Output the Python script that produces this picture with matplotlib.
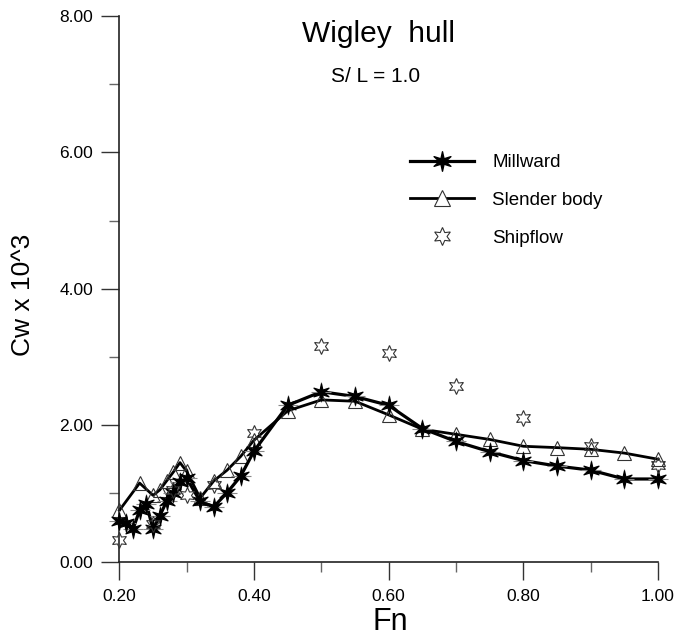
import matplotlib
matplotlib.use("Agg")
import matplotlib.pyplot as plt
from matplotlib.path import Path
from matplotlib.lines import Line2D
from matplotlib.legend_handler import HandlerTuple
from matplotlib.ticker import MultipleLocator, FormatStrFormatter

plt.rcParams['font.family'] = ['Liberation Sans', 'DejaVu Sans']

# Wave resistance coefficient Cw x 10^3 versus Froude number
fn_millward = [0.20, 0.21, 0.22, 0.23, 0.24, 0.25, 0.26, 0.27, 0.28, 0.29, 0.30,
               0.32, 0.34, 0.36, 0.38, 0.40, 0.45, 0.50, 0.55, 0.60, 0.65, 0.70,
               0.75, 0.80, 0.85, 0.90, 0.95, 1.00]
cw_millward = [0.60, 0.57, 0.47, 0.75, 0.85, 0.47, 0.67, 0.88, 1.00, 1.17, 1.22,
               0.88, 0.80, 1.01, 1.25, 1.62, 2.29, 2.49, 2.42, 2.29, 1.95, 1.76,
               1.61, 1.48, 1.40, 1.34, 1.21, 1.21]

fn_slender = [0.20, 0.23, 0.25, 0.26, 0.27, 0.28, 0.29, 0.30, 0.32, 0.34, 0.36,
              0.38, 0.40, 0.45, 0.50, 0.55, 0.60, 0.65, 0.70, 0.75, 0.80, 0.85,
              0.90, 0.95, 1.00]
cw_slender = [0.75, 1.15, 0.97, 1.05, 1.18, 1.31, 1.45, 1.32, 0.93, 1.18, 1.34,
              1.54, 1.78, 2.21, 2.37, 2.35, 2.15, 1.94, 1.865, 1.79, 1.69, 1.67,
              1.645, 1.59, 1.50]

fn_shipflow = [0.20, 0.25, 0.28, 0.30, 0.34, 0.40, 0.50, 0.60, 0.70, 0.80, 0.90, 1.00]
cw_shipflow = [0.32, 0.55, 1.05, 0.97, 1.12, 1.88, 3.16, 3.06, 2.58, 2.10, 1.69, 1.41]

series_labels = ["Millward", "Slender body", "Shipflow"]
x_ticks = [0.20, 0.40, 0.60, 0.80, 1.00]
y_ticks = [0.00, 2.00, 4.00, 6.00, 8.00]

W, H = 681, 638
fig = plt.figure(figsize=(W / 100, H / 100), dpi=100)
ax = fig.add_axes([119.4 / W, 1 - 561.5 / H, (658 - 119.4) / W, (561.5 - 16) / H])

spiky_star = Path.unit_regular_star(6, 0.32)
open_star = (6, 1, 0)

# Slender body: line with open triangles
ax.plot(fn_slender, cw_slender, color='black', lw=2.0, zorder=2, clip_on=False)
ax.plot(fn_slender, cw_slender, ls='none', marker='^', ms=9.5, mfc='none',
        mec='#333333', mew=0.8, zorder=3, clip_on=False)

# Millward: line with filled stars and a thin cross
ax.plot(fn_millward, cw_millward, color='black', lw=2.3, zorder=4, clip_on=False)
ax.plot(fn_millward, cw_millward, ls='none', marker='+', ms=15, mec='#888888',
        mew=0.8, zorder=5, clip_on=False)
ax.plot(fn_millward, cw_millward, ls='none', marker=spiky_star, ms=12.5, mfc='black',
        mec='black', mew=0.9, zorder=6, clip_on=False)

# Shipflow: open six-pointed stars, no line
ax.plot(fn_shipflow, cw_shipflow, ls='none', marker=open_star, ms=11.5, mfc='none',
        mec='#333333', mew=0.8, zorder=7, clip_on=False)

ax.set_xlim(0.20, 1.00)
ax.set_ylim(0.0, 8.0)
ax.set_xticks(x_ticks)
ax.set_yticks(y_ticks)
ax.xaxis.set_minor_locator(MultipleLocator(0.1))
ax.yaxis.set_minor_locator(MultipleLocator(1.0))
ax.xaxis.set_major_formatter(FormatStrFormatter('%.2f'))
ax.yaxis.set_major_formatter(FormatStrFormatter('%.2f'))

for side in ('top', 'right'):
    ax.spines[side].set_visible(False)
for side in ('left', 'bottom'):
    ax.spines[side].set_linewidth(1.2)
    ax.spines[side].set_color('#222222')

ax.tick_params(axis='both', which='major', direction='out', length=13, width=1.0,
               color='#333333', labelsize=12.5, labelcolor='black')
ax.tick_params(axis='both', which='minor', direction='out', length=7, width=1.0,
               color='#666666')
ax.tick_params(axis='x', which='major', pad=7)
ax.tick_params(axis='y', which='major', pad=6)

fig.text(378 / W, 1 - 34 / H, "Wigley  hull", ha='center', va='center', fontsize=21.5)
fig.text(376 / W, 1 - 77 / H, "S/ L = 1.0", ha='center', va='center', fontsize=15)
fig.text(390 / W, 1 - 622 / H, "Fn", ha='center', va='center', fontsize=22)
fig.text(23 / W, 1 - 295 / H, "Cw x 10^3", ha='center', va='center',
         rotation=90, fontsize=19)

h_mill = (Line2D([], [], color='black', lw=2.3),
          Line2D([], [], ls='none', marker='|', ms=15, mec='#888888', mew=0.8),
          Line2D([], [], ls='none', marker=spiky_star, ms=14, mfc='black',
                 mec='black'))
h_slender = Line2D([], [], color='black', lw=2.0, marker='^', ms=12, mfc='white',
                   mec='#333333', mew=0.8)
h_ship = Line2D([], [], ls='none', marker=open_star, ms=13, mfc='none',
                mec='#333333', mew=0.8)

fig.legend([h_mill, h_slender, h_ship], series_labels,
           handler_map={tuple: HandlerTuple(ndivide=1)},
           loc='upper left', bbox_to_anchor=(410 / W, 1 - 154 / H),
           bbox_transform=fig.transFigure, frameon=False, fontsize=13.5,
           handlelength=3.4, handletextpad=1.0, labelspacing=1.1,
           borderpad=0, borderaxespad=0, numpoints=1)

fig.savefig("out.png", dpi=100)
